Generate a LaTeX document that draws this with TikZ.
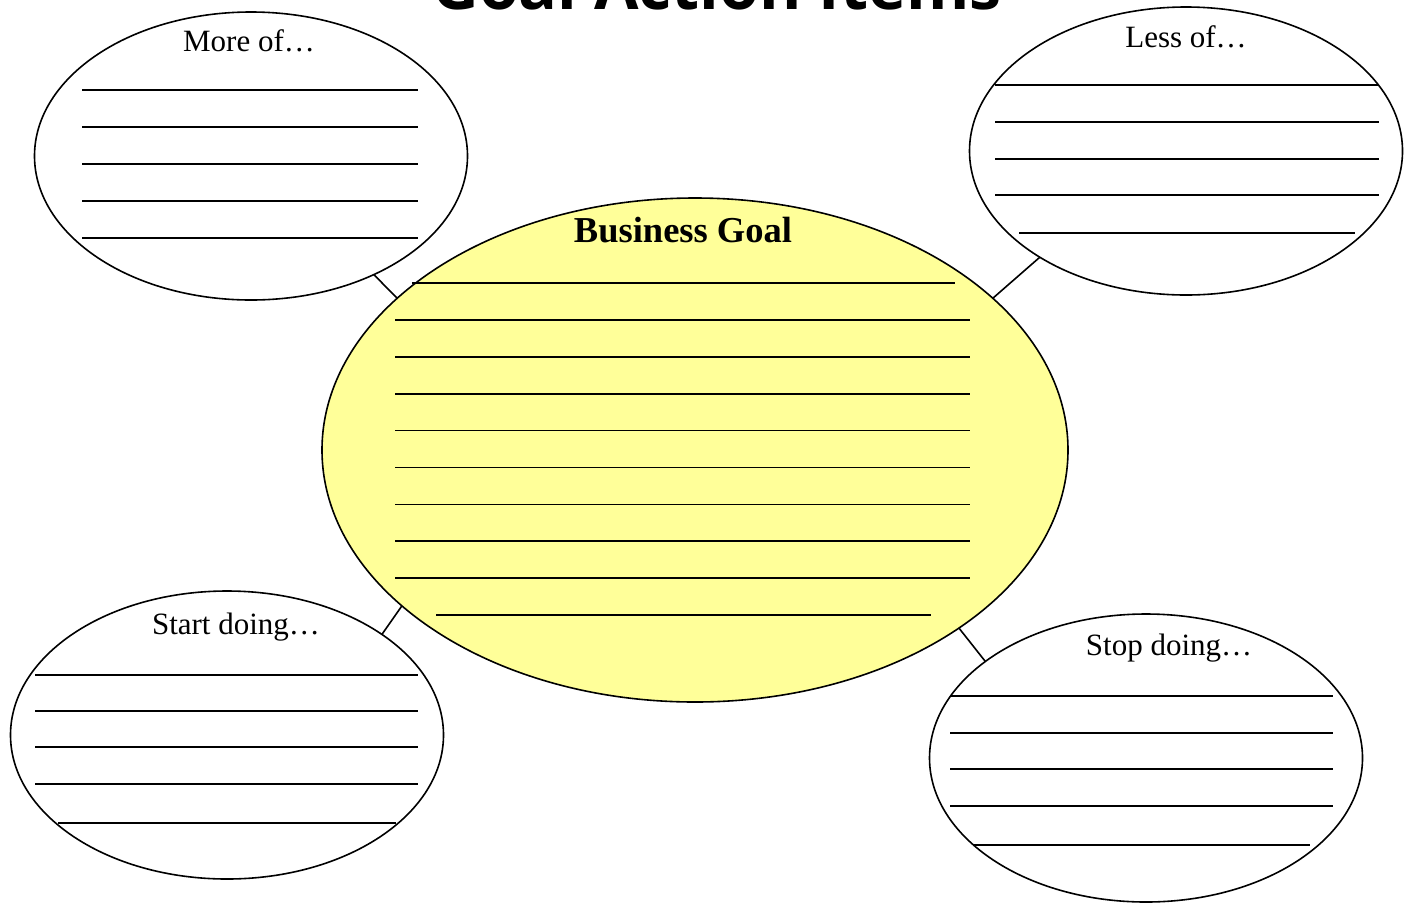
\documentclass[tikz,border=0pt]{standalone}
\usepackage{fontspec}
\setmainfont{Liberation Serif}
\newfontfamily\titlefont{Open Sans}
\usetikzlibrary{shapes.geometric}
\definecolor{goalyellow}{HTML}{FFFF99}

\begin{document}
\begin{tikzpicture}[
    x=1pt, y=-1pt,
    bubble/.style={ellipse, draw, line width=1.6pt, inner sep=0pt, outer sep=0pt,
                   minimum width=433pt, minimum height=288pt},
    goalbubble/.style={bubble, fill=goalyellow, minimum width=746pt, minimum height=504pt},
    caption/.style={anchor=base, inner sep=0pt, font=\fontsize{31}{36}\selectfont},
    heading/.style={anchor=base, inner sep=0pt, font=\titlefont\bfseries\fontsize{64.5}{72}\selectfont},
    link/.style={draw, line width=1.6pt},
    ruled/.style={line width=1.7pt}
]
\useasboundingbox (0,0) rectangle (1413,903);

% Title (cut by the page edge)
\node[heading] (title) at (717,9) {Goal Action Items};

% Bubbles
\node[goalbubble] (goal) at (695,450) {};
\node[bubble] (more) at (251,156) {};
\node[bubble] (less) at (1186,151) {};
\node[bubble] (start) at (227,735) {};
\node[bubble] (stop) at (1146,758) {};

% Captions
\node[caption, font=\bfseries\fontsize{36.5}{42}\selectfont] (goal-t) at (683,242) {Business Goal};
\node[caption] (more-t) at (249,51) {More of…};
\node[caption] (less-t) at (1186,47) {Less of…};
\node[caption] (start-t) at (236,634) {Start doing…};
\node[caption] (stop-t) at (1169,655) {Stop doing…};

% Links
\draw[link] (more.-44) -- (goal.153);
\draw[link] (goal.27) -- (less.216);
\draw[link] (start.33) -- (goal.208);
\draw[link] (goal.-34) -- (stop.149);

% Blank lines
\draw[ruled] (412,283) -- (955,283);
\foreach \i in {1,...,8} {
    \draw[ruled] (395,283+36.9*\i) -- (970,283+36.9*\i);
}
\draw[ruled] (436,615) -- (931,615);

\foreach \y in {90,127,164,201,238} {
    \draw[ruled] (82,\y) -- (418,\y);
}
\foreach \y in {85,122,159,195} {
    \draw[ruled] (995,\y) -- (1379,\y);
}
\draw[ruled] (1019,233) -- (1355,233);

\foreach \y in {675,711,747,784} {
    \draw[ruled] (35,\y) -- (418,\y);
}
\draw[ruled] (58,823) -- (396,823);

\foreach \y in {696,733,769,806} {
    \draw[ruled] (950,\y) -- (1333,\y);
}
\draw[ruled] (973,845) -- (1310,845);

\end{tikzpicture}
\end{document}
